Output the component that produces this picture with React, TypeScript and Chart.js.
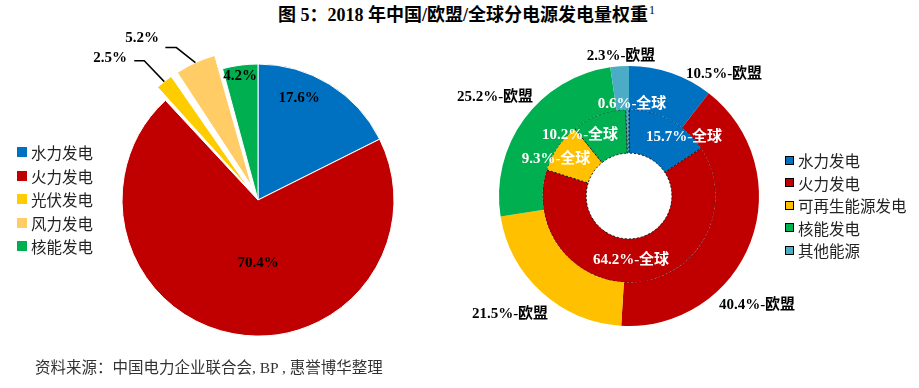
import React, { useEffect, useRef } from 'react';
import { Chart, registerables } from 'chart.js';

Chart.register(...registerables);

// ---------- data ----------
const chinaCategories = ['水力发电', '火力发电', '光伏发电', '风力发电', '核能发电'];
const chinaValues = [17.6, 70.4, 2.5, 5.2, 4.2];

const mixCategories = ['水力发电', '火力发电', '可再生能源发电', '核能发电', '其他能源'];
const euValues = [10.5, 40.4, 21.5, 25.2, 2.3];
const globalValues = [15.7, 64.2, 9.3, 10.2, 0.6];

const titleText = '图 5：2018 年中国/欧盟/全球分电源发电量权重';
const titleNote = '1';
const sourceText = '资料来源：中国电力企业联合会, BP , 惠誉博华整理';
const euSuffix = '-欧盟';
const globalSuffix = '-全球';

// ---------- styles ----------
const chinaColors = ['#0070C0', '#C00000', '#FFCC00', '#FFCC66', '#00B050'];
const chinaExplodePx = [0, 0, 15, 15, 0];
const mixColors = ['#0070C0', '#C00000', '#FFC000', '#00B050', '#4BACC6'];

// label offsets from the pie centre [dx, dy]
const chinaLabelPos = [[41, -102], [0, 63], [-148, -142], [-116, -162], [-18, -124]];
// leader lines: [elbow dx, elbow dy, tail length] or null
const chinaLeaders: (number[] | null)[] = [null, null, [-20, -21, 10], [-19, -15, 11], null];
const euLabelPos = [[95, -122], [128, 109], [-119, 118], [-134, -99], [-8, -140]];
const globalLabelPos = [[55, -59], [2, 64], [-73, -37], [-49, -61], [3, -92]];

const FONT = '"Liberation Serif", "Noto Sans CJK SC", serif';
const CJK = '"Noto Sans CJK SC", "Liberation Serif", sans-serif';

const fmt = (v: number) => v.toFixed(1) + '%';

// keeps exploded slices at the nominal radius (Chart.js grows radius with offset)
const explodeFix = {
  id: 'explodeFix',
  afterDatasetUpdate(_chart: any, args: any) {
    args.meta.data.forEach((arc: any) => {
      const off = (arc.options && arc.options.offset) || 0;
      arc.$nominalR = arc.outerRadius;
      if (!off) return;
      const shift = off / 4;
      const circ = arc.circumference ?? arc.endAngle - arc.startAngle;
      const fix = 1 - Math.sin(Math.min(Math.PI, circ));
      arc.outerRadius = arc.outerRadius - shift * fix;
    });
  },
};

const sliceLabels = {
  id: 'sliceLabels',
  afterDatasetsDraw(chart: any, _args: any, opts: any) {
    const ctx = chart.ctx;
    const items = (opts && opts.items) || [];
    ctx.save();
    for (const it of items) {
      const arc: any = chart.getDatasetMeta(it.ds).data[it.i];
      if (!arc) continue;
      const cx = arc.x;
      const cy = arc.y;
      if (it.leader) {
        const mid = (arc.startAngle + arc.endAngle) / 2;
        const shift = ((arc.options && arc.options.offset) || 0) / 4;
        const r = (arc.$nominalR ?? arc.outerRadius) + shift;
        const ex = cx + Math.cos(mid) * r;
        const ey = cy + Math.sin(mid) * r;
        const kx = ex + it.leader[0];
        const ky = ey + it.leader[1];
        ctx.beginPath();
        ctx.moveTo(ex, ey);
        ctx.lineTo(kx, ky);
        ctx.lineTo(kx - it.leader[2], ky);
        ctx.strokeStyle = '#000';
        ctx.lineWidth = 1.5;
        ctx.stroke();
      }
      ctx.font = 'bold 15px ' + FONT;
      ctx.fillStyle = it.color;
      ctx.textAlign = 'center';
      ctx.textBaseline = 'middle';
      ctx.fillText(it.text, cx + it.dx, cy + it.dy);
    }
    ctx.restore();
  },
};

function PieChart() {
  const ref = useRef<HTMLCanvasElement>(null);
  useEffect(() => {
    if (!ref.current) return;
    const items = chinaValues.map((v, i) => ({
      ds: 0,
      i,
      text: fmt(v),
      dx: chinaLabelPos[i][0],
      dy: chinaLabelPos[i][1],
      color: '#000',
      leader: chinaLeaders[i],
    }));
    const chart = new Chart(ref.current, {
      type: 'pie',
      data: {
        labels: chinaCategories,
        datasets: [
          {
            data: chinaValues,
            backgroundColor: chinaColors,
            borderColor: '#ffffff',
            borderWidth: 1,
            offset: chinaExplodePx.map((p) => p * 4),
          } as any,
        ],
      },
      options: {
        responsive: false,
        animation: false,
        events: [],
        radius: 136,
        layout: { padding: 0 },
        plugins: {
          legend: { display: false },
          tooltip: { enabled: false },
          sliceLabels: { items },
        } as any,
      } as any,
      plugins: [explodeFix, sliceLabels],
    });
    return () => chart.destroy();
  }, []);
  return (
    <canvas
      ref={ref}
      width={516}
      height={360}
      style={{ position: 'absolute', left: 0, top: 20, width: 516, height: 360 }}
    />
  );
}

function RingChart() {
  const ref = useRef<HTMLCanvasElement>(null);
  useEffect(() => {
    if (!ref.current) return;
    const items = [
      ...euValues.map((v, i) => ({
        ds: 0,
        i,
        text: fmt(v) + euSuffix,
        dx: euLabelPos[i][0],
        dy: euLabelPos[i][1],
        color: '#000',
      })),
      ...globalValues.map((v, i) => ({
        ds: 1,
        i,
        text: fmt(v) + globalSuffix,
        dx: globalLabelPos[i][0],
        dy: globalLabelPos[i][1],
        color: '#fff',
      })),
    ];
    const chart = new Chart(ref.current, {
      type: 'doughnut',
      data: {
        labels: mixCategories,
        datasets: [
          {
            label: '欧盟',
            data: euValues,
            backgroundColor: mixColors,
            borderWidth: 0,
          },
          {
            label: '全球',
            data: globalValues,
            backgroundColor: mixColors,
            borderColor: '#1a1a1a',
            borderWidth: 1,
            borderDash: [2, 2],
          } as any,
        ],
      },
      options: {
        responsive: false,
        animation: false,
        events: [],
        radius: 130,
        cutout: '33%',
        layout: { padding: 0 },
        plugins: {
          legend: { display: false },
          tooltip: { enabled: false },
          sliceLabels: { items },
        } as any,
      } as any,
      plugins: [sliceLabels],
    });
    return () => chart.destroy();
  }, []);
  return (
    <canvas
      ref={ref}
      width={360}
      height={340}
      style={{ position: 'absolute', left: 449, top: 26, width: 360, height: 340 }}
    />
  );
}

export default function App() {
  return (
    <div
      style={{
        position: 'absolute',
        left: 0,
        top: 0,
        width: 919,
        height: 388,
        background: '#fff',
        overflow: 'hidden',
        fontFamily: FONT,
      }}
    >
      <div
        style={{
          position: 'absolute',
          left: 278,
          top: 6,
          fontSize: 18,
          lineHeight: '18px',
          fontWeight: 'bold',
          whiteSpace: 'nowrap',
          color: '#000',
        }}
      >
        {titleText}
        <span style={{ fontSize: 12, fontWeight: 'normal', position: 'relative', top: -7, marginLeft: 1 }}>{titleNote}</span>
      </div>

      <PieChart />
      <RingChart />

      {chinaCategories.map((c, i) => (
        <div
          key={c}
          style={{
            position: 'absolute',
            left: 17,
            top: 152 + i * 23.6 - 10,
            height: 20,
            display: 'flex',
            alignItems: 'center',
            whiteSpace: 'nowrap',
          }}
        >
          <span style={{ width: 10, height: 10, background: chinaColors[i], display: 'inline-block' }} />
          <span style={{ marginLeft: 4, fontFamily: CJK, fontSize: 15.5, color: '#222', lineHeight: '20px' }}>{c}</span>
        </div>
      ))}

      {mixCategories.map((c, i) => (
        <div
          key={c}
          style={{
            position: 'absolute',
            left: 785,
            top: 160 + i * 22.6 - 10,
            height: 20,
            display: 'flex',
            alignItems: 'center',
            whiteSpace: 'nowrap',
          }}
        >
          <span
            style={{
              width: 9,
              height: 9,
              boxSizing: 'border-box',
              border: '1.5px solid #000',
              background: mixColors[i],
              display: 'inline-block',
            }}
          />
          <span style={{ marginLeft: 4, fontFamily: CJK, fontSize: 15.5, color: '#222', lineHeight: '20px' }}>{c}</span>
        </div>
      ))}

      <div
        style={{
          position: 'absolute',
          left: 35,
          top: 358,
          fontSize: 15.5,
          lineHeight: '20px',
          color: '#333',
          whiteSpace: 'nowrap',
        }}
      >
        {sourceText}
      </div>
    </div>
  );
}
